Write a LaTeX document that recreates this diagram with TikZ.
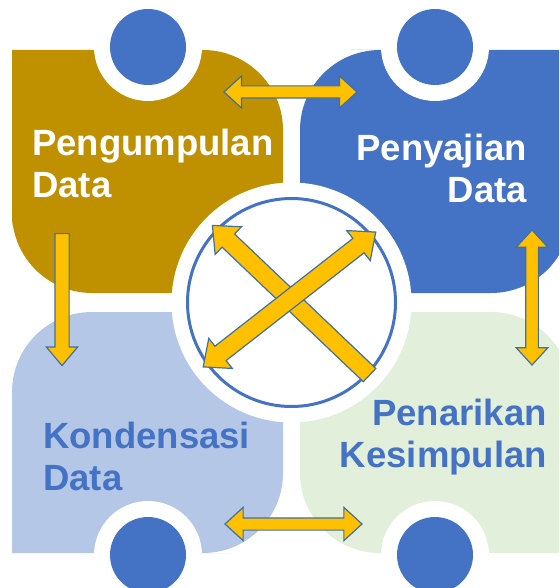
\documentclass[tikz,border=0pt]{standalone}
\usepackage{fontspec}
\setmainfont{Liberation Sans}
\usetikzlibrary{shapes.arrows}

\definecolor{goldfillcolor}{rgb}{0.749020, 0.564706, 0.000000}
\definecolor{bluefillcolor}{rgb}{0.266667, 0.447059, 0.768627}
\definecolor{palefillcolor}{rgb}{0.705882, 0.780392, 0.905882}
\definecolor{greenfillcolor}{rgb}{0.886275, 0.937255, 0.854902}
\definecolor{arrowfillcolor}{rgb}{1.000000, 0.752941, 0.000000}
\definecolor{arrowlinecolor}{rgb}{0.254902, 0.443137, 0.611765}

\tikzset{
  ringgap/.style={circle, fill=white, inner sep=0pt, minimum size=108pt},
  hubdot/.style={circle, fill=bluefillcolor, inner sep=0pt, minimum size=76pt},
  blockarrow/.style={draw=arrowlinecolor, fill=arrowfillcolor, line width=1.2pt,
    inner xsep=0pt, inner ysep=5.75pt},
  sglarrow/.style={blockarrow, single arrow, single arrow head extend=9.5pt,
    single arrow tip angle=85},
  dblarrow/.style={blockarrow, double arrow, double arrow head extend=9.5pt,
    double arrow tip angle=85},
  label/.style={font=\bfseries\fontsize{36.5}{42}\selectfont, inner sep=0pt}
}

\begin{document}
\begin{tikzpicture}[x=1pt, y=-1pt]
\useasboundingbox (0,0) rectangle (559,588);
\clip (0,0) rectangle (559,588);
% panels
\fill[goldfillcolor] (150,50) [rounded corners=80pt] -- (283,50) -- (283,293) -- (12,293) -- (12,150) [sharp corners] -- (12,50) -- cycle;
\fill[bluefillcolor] (430,50) [sharp corners] -- (571,50) -- (571,150) [rounded corners=80pt] -- (571,293) -- (300,293) -- (300,50) -- cycle;
\fill[palefillcolor] (150,553) [sharp corners] -- (12,553) -- (12,450) [rounded corners=80pt] -- (12,312) -- (283,312) -- (283,553) -- cycle;
\fill[greenfillcolor] (430,553) [rounded corners=80pt] -- (300,553) -- (300,312) -- (571,312) -- (571,450) [sharp corners] -- (571,553) -- cycle;
% cut-outs and dots
\node[ringgap] (gapTL) at (148,47) {};
\node[ringgap] (gapTR) at (435,47) {};
\node[ringgap] (gapBL) at (148,555) {};
\node[ringgap] (gapBR) at (435,555) {};
\node[hubdot] (dotTL) at (148,47) {};
\node[hubdot] (dotTR) at (435,47) {};
\node[hubdot] (dotBL) at (148,555) {};
\node[hubdot] (dotBR) at (435,555) {};
\node[ringgap, minimum size=240pt] (hubgap) at (291.5,302.5) {};
\node[circle, draw=bluefillcolor, line width=3pt, inner sep=0pt, minimum size=208pt] (hub) at (291.5,302.5) {};
% arrows
\node[dblarrow, inner ysep=5.5pt, double arrow head extend=10pt, minimum height=133pt] (arrTop) at (290.5,92) {};
\node[dblarrow, inner ysep=5.5pt, double arrow head extend=10.5pt, minimum height=137pt] (arrBottom) at (293.5,524) {};
\node[sglarrow, inner ysep=6.5pt, single arrow head extend=8.5pt, single arrow tip angle=80,
  minimum height=132pt, rotate=-90, anchor=tail] (arrLeft) at (62,233) {};
\node[dblarrow, minimum height=135pt, rotate=90] (arrRight) at (532,297.5) {};
\node[sglarrow, inner ysep=8.5pt, single arrow head extend=10pt, single arrow tip angle=82,
  minimum height=217pt, rotate=136.4, anchor=tail] (arrCrossA) at (370,375.5) {};
\node[dblarrow, inner ysep=8.5pt, double arrow head extend=10pt, double arrow tip angle=82,
  minimum height=219pt, rotate=38] (arrCrossB) at (289.5,299.5) {};
% texts (base = last line)
\node[label, text=white, align=left, anchor=base west] (txtTL) at (32,197) {Pengumpulan\\Data};
\node[label, text=white, align=right, anchor=base east] (txtTR) at (527,202) {Penyajian\\Data};
\node[label, text=bluefillcolor, align=left, anchor=base west] (txtBL) at (43,490) {Kondensasi\\Data};
\node[label, text=bluefillcolor, align=right, anchor=base east] (txtBR) at (547,467) {Penarikan\\Kesimpulan};
\end{tikzpicture}
\end{document}
